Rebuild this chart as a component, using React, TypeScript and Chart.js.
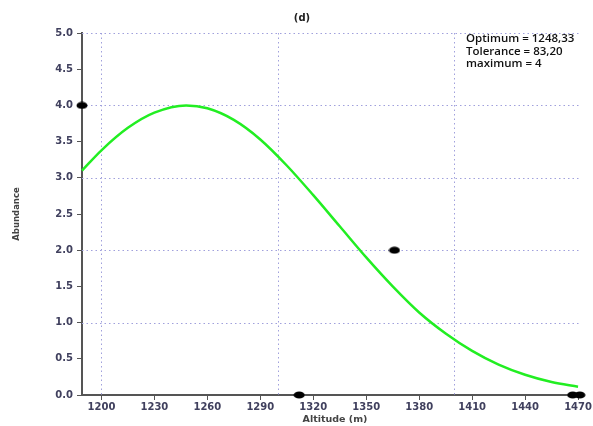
import React, { useEffect, useRef } from "react";
import { Chart, registerables } from "chart.js";

Chart.register(...registerables);

const curveX = [1189, 1200, 1215, 1230, 1248, 1260, 1275, 1290, 1305, 1320, 1335, 1350, 1365, 1380, 1395, 1410, 1425, 1440, 1455, 1470];
const curveY = [3.10, 3.38, 3.69, 3.90, 4.00, 3.96, 3.80, 3.53, 3.17, 2.76, 2.33, 1.90, 1.50, 1.14, 0.85, 0.61, 0.42, 0.28, 0.18, 0.115];

const obsX = [1189, 1312, 1366, 1467, 1471];
const obsY = [4, 0, 2, 0, 0];

const xTicks = [1200, 1230, 1260, 1290, 1320, 1350, 1380, 1410, 1440, 1470];
const xGrid = [1200, 1300, 1400];
const yGrid = [1, 2, 3, 4, 5];

const title = "(d)";
const xTitle = "Altitude (m)";
const yTitle = "Abundance";
const annotation = ["Optimum = 1248,33", "Tolerance = 83,20", "maximum = 4"];

function makeEllipse(): HTMLCanvasElement {
  const c = document.createElement("canvas");
  c.width = 12;
  c.height = 8;
  const g = c.getContext("2d")!;
  g.fillStyle = "#000";
  g.beginPath();
  g.ellipse(6, 4, 5.5, 3.6, 0, 0, Math.PI * 2);
  g.fill();
  return c;
}

export default function App() {
  const ref = useRef<HTMLCanvasElement>(null);
  useEffect(() => {
    const marker = makeEllipse();
    const decor = {
      id: "decor",
      beforeDatasetsDraw(chart: any) {
        const { ctx, chartArea, scales } = chart;
        ctx.save();
        ctx.strokeStyle = "#a0a0dc";
        ctx.lineWidth = 1;
        ctx.setLineDash([1.5, 3]);
        xGrid.forEach((v) => {
          const px = Math.round(scales.x.getPixelForValue(v)) + 0.5;
          ctx.beginPath();
          ctx.moveTo(px, chartArea.top);
          ctx.lineTo(px, chartArea.bottom);
          ctx.stroke();
        });
        yGrid.forEach((v) => {
          const py = Math.round(scales.y.getPixelForValue(v)) + 0.5;
          ctx.beginPath();
          ctx.moveTo(chartArea.left, py);
          ctx.lineTo(chartArea.right, py);
          ctx.stroke();
        });
        ctx.restore();
      },
      afterDraw(chart: any) {
        const { ctx } = chart;
        ctx.save();
        ctx.fillStyle = "#222";
        ctx.textAlign = "center";
        ctx.textBaseline = "middle";
        ctx.font = "bold 10px 'DejaVu Sans'";
        ctx.fillText(title, 302, 18);
        ctx.font = "bold 9.5px 'DejaVu Sans'";
        ctx.fillStyle = "#444";
        ctx.fillText(xTitle, 335, 420);
        ctx.save();
        ctx.translate(17, 214);
        ctx.rotate(-Math.PI / 2);
        ctx.font = "bold 8.5px 'DejaVu Sans'";
        ctx.fillText(yTitle, 0, 0);
        ctx.restore();
        ctx.textAlign = "left";
        ctx.fillStyle = "#111";
        ctx.font = "600 11.5px 'Open Sans'";
        annotation.forEach((t, i) => ctx.fillText(t, 466, 39 + i * 12.5));
        ctx.restore();
      },
    };

    const chart = new Chart(ref.current!, {
      type: "scatter",
      data: {
        datasets: [
          {
            type: "line",
            data: curveX.map((x, i) => ({ x, y: curveY[i] })),
            borderColor: "#22ee22",
            borderWidth: 2.5,
            pointRadius: 0,
            cubicInterpolationMode: "monotone",
            fill: false,
            clip: false as any,
            order: 2,
          },
          {
            type: "scatter",
            data: obsX.map((x, i) => ({ x, y: obsY[i] })),
            pointStyle: marker as any,
            pointRadius: 5,
            clip: false as any,
            order: 1,
          },
        ],
      },
      options: {
        animation: false,
        responsive: false,
        maintainAspectRatio: false,
        layout: { padding: { left: 0, right: 11, top: 33, bottom: 0 } },
        plugins: { legend: { display: false }, tooltip: { enabled: false }, title: { display: false } },
        scales: {
          x: {
            type: "linear",
            min: 1189,
            max: 1471,
            afterBuildTicks: (s: any) => {
              s.ticks = xTicks.map((v) => ({ value: v }));
            },
            afterFit: (s: any) => {
              s.height = 31;
            },
            border: { display: true, color: "#555", width: 2 },
            grid: { drawOnChartArea: false, tickLength: 5, tickColor: "#555", tickWidth: 1 },
            ticks: {
              color: "#40405e",
              font: { family: "DejaVu Sans", size: 10, weight: "bold" },
              padding: 1,
              maxRotation: 0,
              autoSkip: false,
              callback: (v: any) => String(v),
            },
          },
          y: {
            type: "linear",
            min: 0,
            max: 5,
            afterFit: (s: any) => {
              s.width = 82;
            },
            border: { display: true, color: "#555", width: 2 },
            grid: { drawOnChartArea: false, tickLength: 5, tickColor: "#555", tickWidth: 1 },
            ticks: {
              stepSize: 0.5,
              color: "#40405e",
              font: { family: "DejaVu Sans", size: 10, weight: "bold" },
              padding: 4,
              callback: (v: any) => Number(v).toFixed(1),
            },
          },
        },
      },
      plugins: [decor],
    });
    return () => chart.destroy();
  }, []);
  return (
    <div style={{ position: "fixed", left: 0, top: 0, width: 593, height: 426, background: "#fff" }}>
      <canvas ref={ref} width={593} height={426} style={{ width: 593, height: 426 }} />
    </div>
  );
}
